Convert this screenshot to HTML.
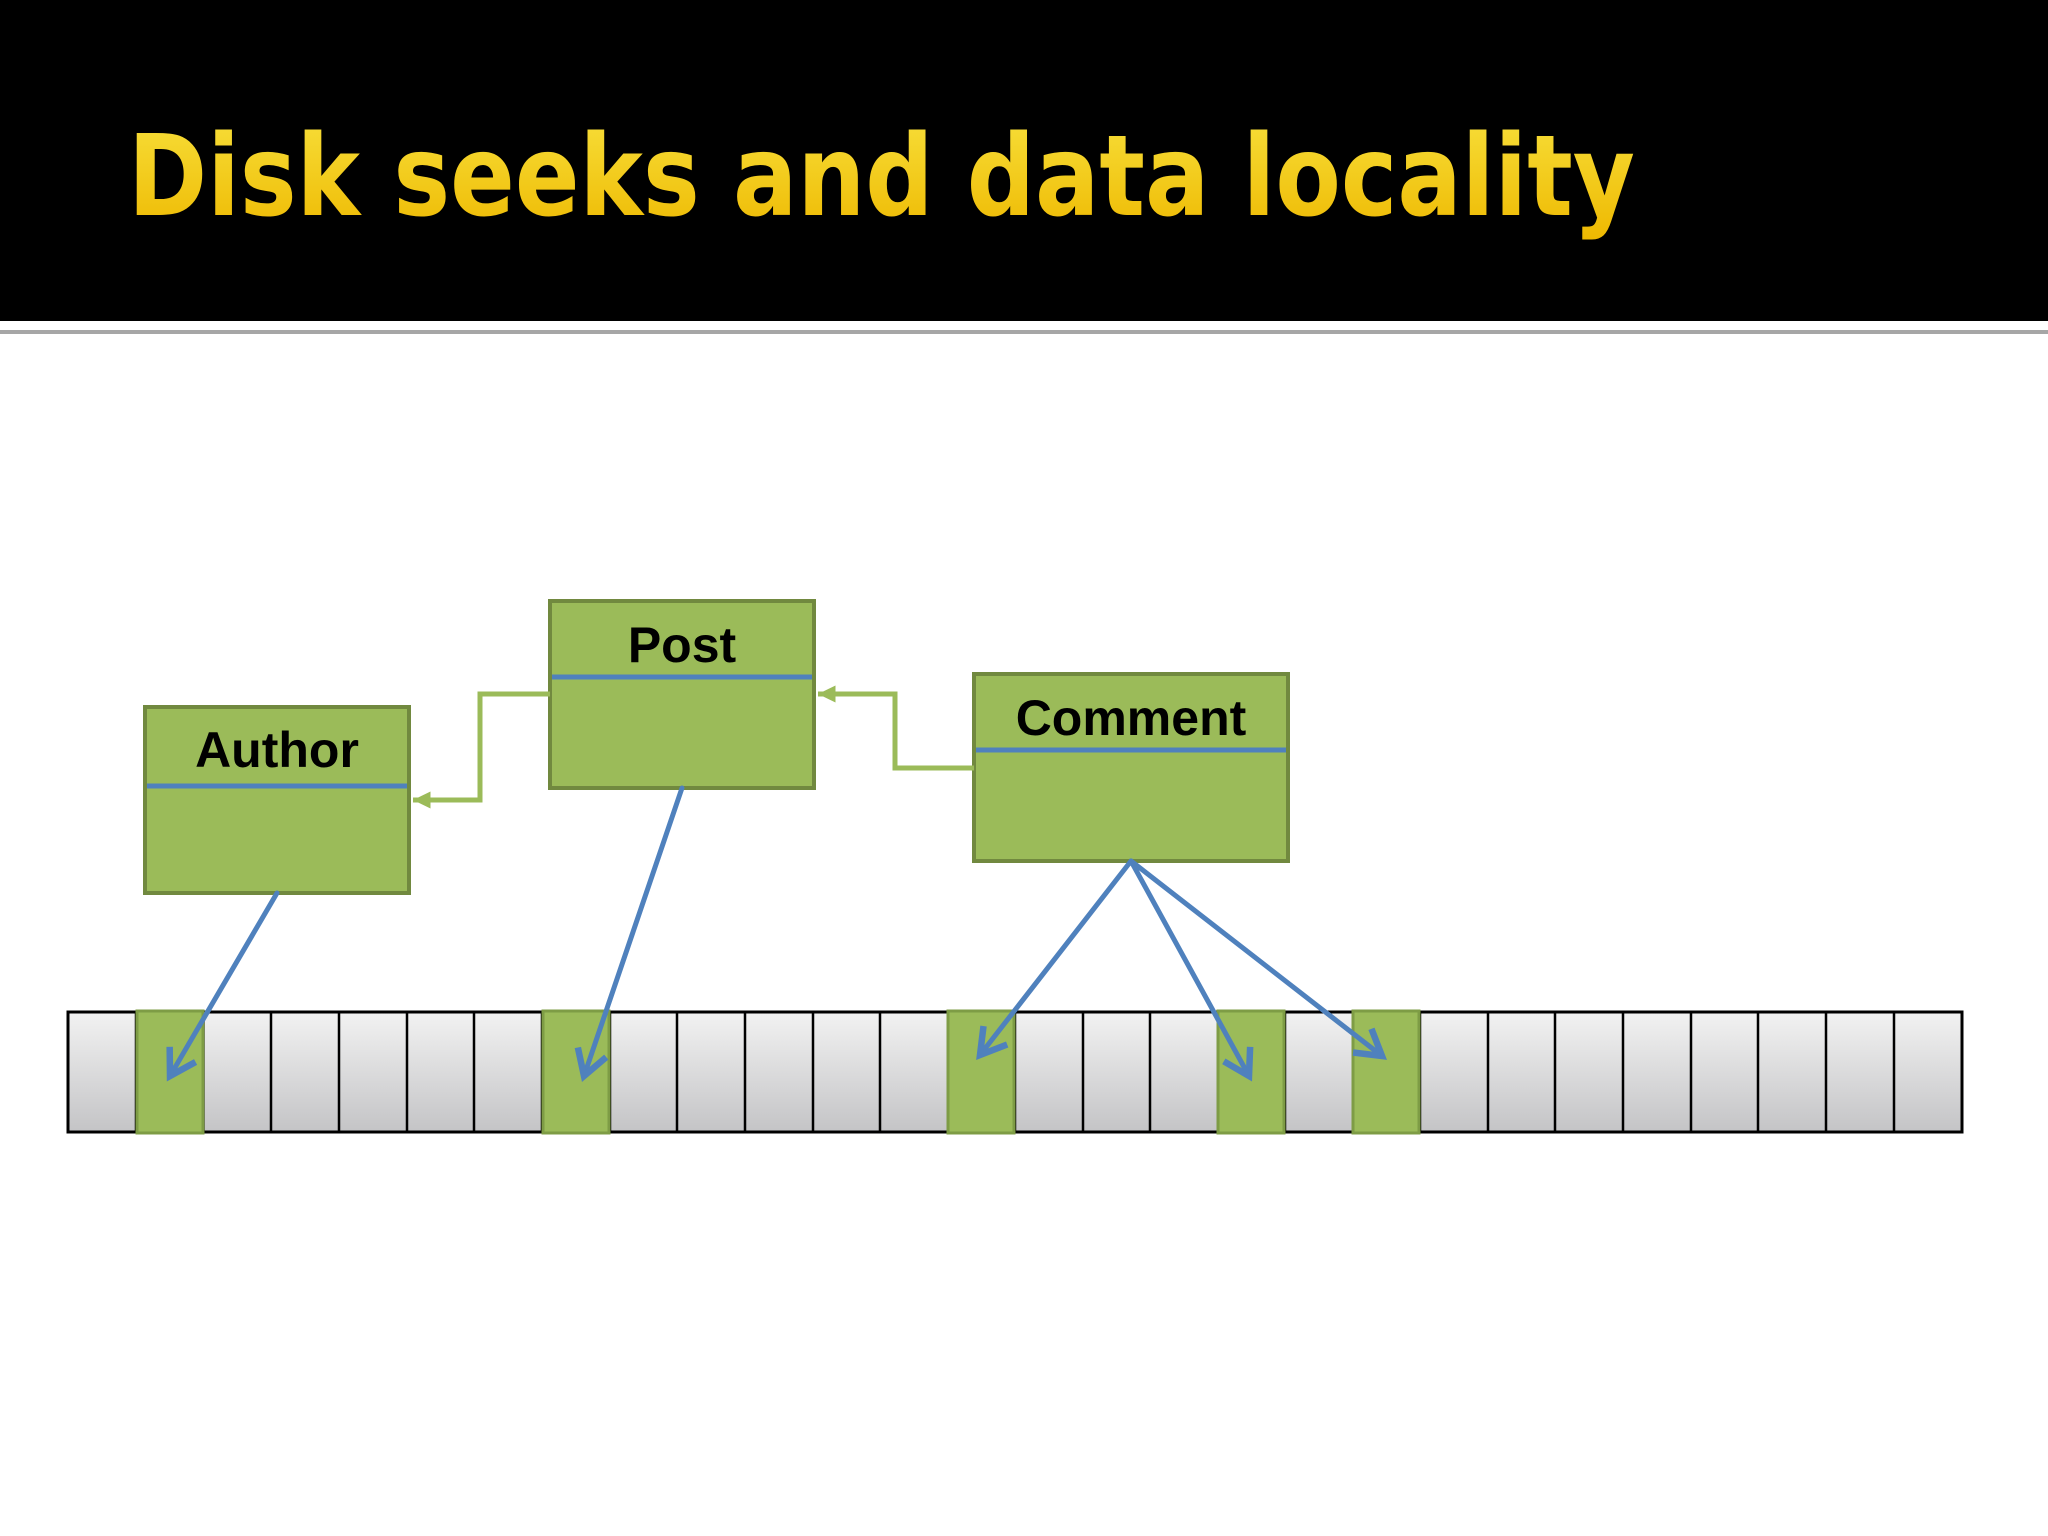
<!DOCTYPE html>
<html><head><meta charset="utf-8"><style>
html,body{margin:0;padding:0;background:#fff;}
svg{display:block;}
</style></head><body>
<svg width="2048" height="1536" viewBox="0 0 2048 1536" xmlns="http://www.w3.org/2000/svg">
<defs>
<linearGradient id="cell" x1="0" y1="0" x2="0" y2="1">
<stop offset="0" stop-color="#f2f2f2"/><stop offset="1" stop-color="#c4c4c6"/>
</linearGradient>
<linearGradient id="ttl" x1="0" y1="0" x2="0" y2="1">
<stop offset="0" stop-color="#f7df3a"/><stop offset="1" stop-color="#eeb800"/>
</linearGradient>
<marker id="ba" markerWidth="8" markerHeight="8" refX="6" refY="4" orient="auto" markerUnits="strokeWidth">
<polyline points="1,1 6,4 1,7" fill="none" stroke="#4f81bd" stroke-width="1.3"/>
</marker>
<marker id="ga" markerWidth="6" markerHeight="6" refX="4" refY="3" orient="auto" markerUnits="strokeWidth">
<polygon points="0.5,1.3 4,3 0.5,4.7" fill="#9bbb59"/>
</marker>
</defs>
<rect x="0" y="0" width="2048" height="321" fill="#000"/>
<rect x="0" y="330" width="2048" height="4" fill="#a6a6a6"/>
<text x="128" y="215" font-family="DejaVu Sans, Liberation Sans, sans-serif" font-weight="bold" font-size="112" fill="url(#ttl)" textLength="1507" lengthAdjust="spacingAndGlyphs">Disk seeks and data locality</text>

<g stroke="#000" stroke-width="3">
<rect x="68" y="1012" width="1894" height="120" fill="url(#cell)"/>
</g>
<g stroke="#000" stroke-width="2.5">
<line x1="203.5" y1="1012" x2="203.5" y2="1132"/><line x1="271" y1="1012" x2="271" y2="1132"/>
<line x1="339" y1="1012" x2="339" y2="1132"/><line x1="407" y1="1012" x2="407" y2="1132"/>
<line x1="474" y1="1012" x2="474" y2="1132"/><line x1="610" y1="1012" x2="610" y2="1132"/>
<line x1="677" y1="1012" x2="677" y2="1132"/><line x1="745" y1="1012" x2="745" y2="1132"/>
<line x1="813" y1="1012" x2="813" y2="1132"/><line x1="880" y1="1012" x2="880" y2="1132"/>
<line x1="1015" y1="1012" x2="1015" y2="1132"/><line x1="1083" y1="1012" x2="1083" y2="1132"/>
<line x1="1150" y1="1012" x2="1150" y2="1132"/><line x1="1218" y1="1012" x2="1218" y2="1132"/>
<line x1="1285" y1="1012" x2="1285" y2="1132"/><line x1="1353" y1="1012" x2="1353" y2="1132"/>
<line x1="1420" y1="1012" x2="1420" y2="1132"/><line x1="1488" y1="1012" x2="1488" y2="1132"/>
<line x1="1555" y1="1012" x2="1555" y2="1132"/><line x1="1623" y1="1012" x2="1623" y2="1132"/>
<line x1="1691" y1="1012" x2="1691" y2="1132"/><line x1="1758" y1="1012" x2="1758" y2="1132"/>
<line x1="1826" y1="1012" x2="1826" y2="1132"/><line x1="1894" y1="1012" x2="1894" y2="1132"/>
<line x1="136" y1="1012" x2="136" y2="1132"/><line x1="542" y1="1012" x2="542" y2="1132"/>
<line x1="948" y1="1012" x2="948" y2="1132"/>
</g>
<g fill="#9bbb59" stroke="#7e9c45" stroke-width="3">
<rect x="137" y="1011" width="66" height="122"/>
<rect x="543" y="1011" width="66" height="122"/>
<rect x="948" y="1011" width="66" height="122"/>
<rect x="1218" y="1011" width="66" height="122"/>
<rect x="1353" y="1011" width="66" height="122"/>
</g>

<g fill="#9bbb59" stroke="#71893f" stroke-width="4">
<rect x="145" y="707" width="264" height="186"/>
<rect x="550" y="601" width="264" height="187"/>
<rect x="974" y="674" width="314" height="187"/>
</g>
<g stroke="#4f81bd" stroke-width="5">
<line x1="147" y1="786" x2="407" y2="786"/>
<line x1="552" y1="677" x2="812" y2="677"/>
<line x1="976" y1="750" x2="1286" y2="750"/>
</g>
<g font-family="Liberation Sans, sans-serif" font-weight="bold" font-size="50" text-anchor="middle" fill="#000">
<text x="277" y="767">Author</text>
<text x="682" y="662">Post</text>
<text x="1131" y="735">Comment</text>
</g>

<g fill="none" stroke="#9bbb59" stroke-width="5">
<polyline points="550,694 480,694 480,800 413,800" marker-end="url(#ga)"/>
<polyline points="974,768 895,768 895,694 818,694" marker-end="url(#ga)"/>
</g>

<g fill="none" stroke="#4f81bd" stroke-width="5" stroke-linecap="round">
<line x1="277" y1="893" x2="170" y2="1076" marker-end="url(#ba)"/>
<line x1="682" y1="788" x2="584" y2="1076" marker-end="url(#ba)"/>
<line x1="1131" y1="861" x2="980" y2="1055" marker-end="url(#ba)"/>
<line x1="1131" y1="861" x2="1249" y2="1076" marker-end="url(#ba)"/>
<line x1="1131" y1="861" x2="1382" y2="1056" marker-end="url(#ba)"/>
</g>
</svg>
</body></html>
